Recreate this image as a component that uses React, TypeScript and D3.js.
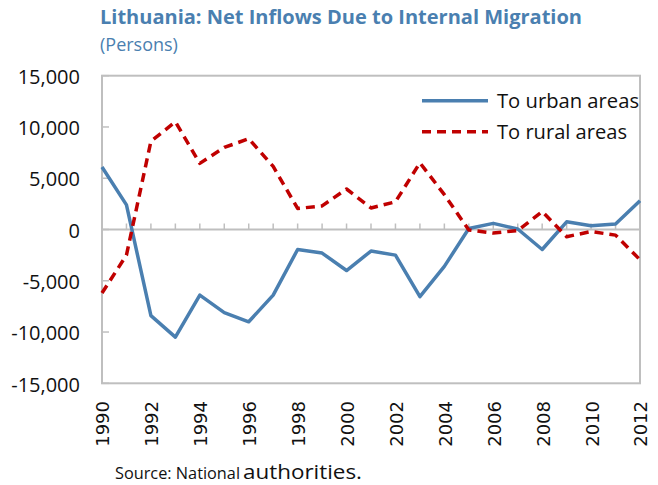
import React from "react";
import * as d3 from "d3";

const years = d3.range(1990, 2013);
const urban = [6100, 2400, -8400, -10500, -6400, -8100, -9000, -6400, -1950, -2300, -4000, -2100, -2500, -6550, -3600, 100, 600, 50, -1950, 750, 370, 540, 2800];
const rural = [-6200, -2500, 8600, 10500, 6450, 8000, 8850, 6150, 2050, 2300, 3950, 2100, 2700, 6500, 3400, -50, -350, -100, 1750, -700, -200, -550, -2950];
const yTicks = [-15000, -10000, -5000, 0, 5000, 10000, 15000];
const xTickLabels = d3.range(1990, 2013, 2);

const W = 658, H = 485;
const L = 102, R = 640, T = 75.7, B = 383.3;
const BLUE = "#4a7fb0";
const RED = "#c00000";
const GRAY = "#bfbfbf";

export default function App() {
  const x = d3.scaleLinear().domain([1990, 2012]).range([L, R]);
  const y = d3.scaleLinear().domain([-15000, 15000]).range([B, T]);
  const line = d3.line<number>().x((_, i) => x(years[i])).y((d) => y(d));
  const fmt = (v: number) => d3.format(",")(v).replace("\u2212", "-");
  return (
    <svg width={W} height={H} style={{ position: "absolute", left: 0, top: 0, background: "#fff" }}>
      <text x={100} y={24} fill={BLUE} fontFamily="Open Sans" fontWeight="bold" fontSize={19} textLength={482} lengthAdjust="spacingAndGlyphs">
        Lithuania: Net Inflows Due to Internal Migration
      </text>
      <text x={100} y={51} fill={BLUE} fontFamily="Open Sans" fontSize={18}>
        (Persons)
      </text>
      <rect x={L} y={T} width={R - L} height={B - T} fill="none" stroke={GRAY} strokeWidth={2} />
      <line x1={L} x2={R} y1={y(0)} y2={y(0)} stroke={GRAY} strokeWidth={2} />
      {years.map((yr) => (
        <line key={yr} x1={x(yr)} x2={x(yr)} y1={y(0)} y2={y(0) - 6} stroke={GRAY} strokeWidth={1.5} />
      ))}
      {yTicks.map((t) => (
        <g key={t}>
          <line x1={L} x2={L + 7} y1={y(t)} y2={y(t)} stroke={GRAY} strokeWidth={1.5} />
          <text x={80} y={y(t) + 1} dy="0.36em" textAnchor="end" fontFamily="Open Sans" fontSize={20} fill="#111">
            {fmt(t)}
          </text>
        </g>
      ))}
      {xTickLabels.map((yr) => (
        <text key={yr} transform={`translate(${x(yr) + 1},401) rotate(-90)`} dy="0.36em" textAnchor="end" fontFamily="DejaVu Sans" fontSize={18} fill="#111">
          {yr}
        </text>
      ))}
      <path d={line(urban) || ""} fill="none" stroke={BLUE} strokeWidth={3.5} strokeLinejoin="round" />
      <path d={line(rural) || ""} fill="none" stroke={RED} strokeWidth={3.5} strokeDasharray="9 6" strokeLinejoin="round" />
      <line x1={422} x2={488} y1={100.7} y2={100.7} stroke={BLUE} strokeWidth={3.5} />
      <line x1={422} x2={488} y1={131.7} y2={131.7} stroke={RED} strokeWidth={3.5} strokeDasharray="9 6" />
      <text x={497} y={100.7} dy="0.36em" fontFamily="Open Sans" fontSize={20} fill="#111" textLength={142} lengthAdjust="spacingAndGlyphs">
        To urban areas
      </text>
      <text x={497} y={131.7} dy="0.36em" fontFamily="Open Sans" fontSize={20} fill="#111" textLength={130} lengthAdjust="spacingAndGlyphs">
        To rural areas
      </text>
      <text x={115} y={479} fontFamily="Open Sans" fontSize={16} fill="#111" textLength={125} lengthAdjust="spacingAndGlyphs">
        Source: National
      </text>
      <text x={243} y={479} fontFamily="Open Sans" fontSize={20} fill="#111" textLength={119} lengthAdjust="spacingAndGlyphs">
        authorities.
      </text>
    </svg>
  );
}
